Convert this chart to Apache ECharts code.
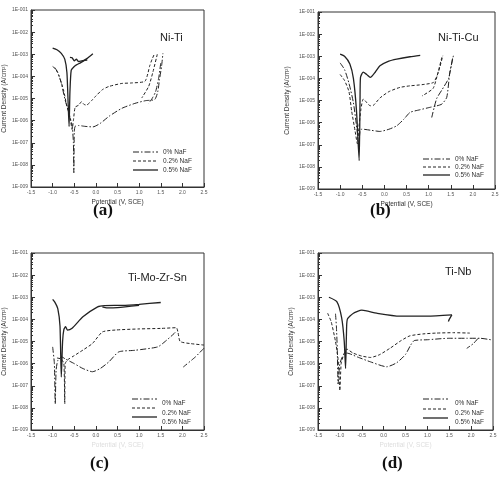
<!DOCTYPE html>
<html>
<head>
<meta charset="utf-8">
<script src="https://cdn.jsdelivr.net/npm/echarts@6/dist/echarts.min.js"></script>
<style>
  html, body { margin: 0; padding: 0; background: #fff; }
  #chart { width: 503px; height: 488px; }
</style>
</head>
<body>
<div id="chart"></div>
<script>
// panel names and labels
const panelNames = ['Ni-Ti', 'Ni-Ti-Cu', 'Ti-Mo-Zr-Sn', 'Ti-Nb'];
const panelLabels = ['(a)', '(b)', '(c)', '(d)'];
const legendNames = ['0% NaF', '0.2% NaF', '0.5% NaF'];

// [potential V, current density A/cm2]
// (a) Ni-Ti
const niTi0 = [[-0.95, 2.5e-4], [-0.88, 1.5e-4], [-0.8, 5e-5], [-0.72, 1e-5], [-0.62, 2e-6], [-0.55, 6e-7], [-0.52, 1e-7], [-0.51, 4.4e-9], [-0.5, 3e-7], [-0.48, 5.5e-7], [-0.4, 6e-7], [-0.25, 5.5e-7], [-0.07, 5.2e-7], [0.1, 7.5e-7], [0.31, 1.6e-6], [0.6, 3.6e-6], [0.9, 6e-6], [1.15, 8e-6], [1.36, 9e-6], [1.43, 2e-5], [1.47, 7e-5], [1.52, 3e-4], [1.55, 1.1e-3]];
const niTi0Rev = [[1.5, 4e-4], [1.45, 8e-5], [1.38, 2e-5], [1.3, 1e-5], [1.22, 6e-6]];
const niTi02 = [[-1.0, 2.8e-4], [-0.92, 2e-4], [-0.85, 1e-4], [-0.75, 2.5e-5], [-0.67, 4.4e-6], [-0.6, 1.5e-6], [-0.55, 4e-7], [-0.52, 1e-6], [-0.48, 4e-6], [-0.4, 5e-6], [-0.33, 7.2e-6], [-0.28, 5.5e-6], [-0.22, 5e-6], [-0.1, 8e-6], [0.0, 1.3e-5], [0.15, 2.5e-5], [0.3, 3.5e-5], [0.6, 4.8e-5], [0.8, 5e-5], [1.13, 5.9e-5], [1.2, 1.3e-4], [1.24, 2.8e-4], [1.3, 6e-4], [1.36, 1.1e-3]];
const niTi02Rev = [[1.42, 1e-3], [1.32, 1.6e-4], [1.22, 3.5e-5], [1.06, 1.05e-5]];
const niTi05 = [[-1.0, 1.9e-3], [-0.9, 1.6e-3], [-0.8, 1.1e-3], [-0.72, 6e-4], [-0.67, 1.5e-4], [-0.64, 5e-6], [-0.62, 5.5e-7], [-0.6, 2e-5], [-0.57, 1.9e-4], [-0.5, 2.8e-4], [-0.45, 3.3e-4], [-0.35, 4.2e-4], [-0.2, 6.5e-4], [-0.07, 1.05e-3]];
const niTi05Rev = [[-0.2, 5.5e-4], [-0.33, 5e-4], [-0.4, 4.7e-4], [-0.45, 6e-4], [-0.5, 5e-4], [-0.55, 7e-4], [-0.6, 7.3e-4]];

// (b) Ni-Ti-Cu
const niTiCu0 = [[-1.0, 5e-4], [-0.9, 2.5e-4], [-0.8, 6e-5], [-0.7, 8e-6], [-0.62, 5e-7], [-0.58, 1e-7], [-0.55, 4e-7], [-0.51, 5.1e-7], [-0.3, 4.5e-7], [-0.1, 4e-7], [0.1, 5e-7], [0.28, 7.2e-7], [0.45, 1.5e-6], [0.58, 2.9e-6], [0.8, 3.8e-6], [1.03, 4.9e-6], [1.18, 5.7e-6], [1.3, 6.9e-6], [1.41, 1.4e-5], [1.48, 1.9e-4], [1.56, 1.05e-3]];
const niTiCu0Rev = [[1.54, 8e-4], [1.45, 1e-4], [1.3, 3e-5], [1.18, 1.2e-5], [1.07, 1.7e-6]];
const niTiCu02 = [[-1.0, 1.5e-4], [-0.9, 8e-5], [-0.8, 2.5e-5], [-0.74, 3.4e-6], [-0.66, 4e-7], [-0.61, 1.1e-7], [-0.58, 5e-7], [-0.53, 4e-6], [-0.48, 1.15e-5], [-0.44, 1e-5], [-0.32, 5.8e-6], [-0.25, 6e-6], [-0.1, 1.3e-5], [0.1, 2.5e-5], [0.35, 3.9e-5], [0.58, 4.6e-5], [0.85, 5.2e-5], [1.11, 6.6e-5], [1.22, 1.9e-4], [1.32, 1.05e-3]];
const niTiCu02Rev = [[1.3, 9e-4], [1.2, 1.5e-4], [1.1, 3.5e-5], [0.85, 1.6e-5]];
const niTiCu05 = [[-1.0, 1.25e-3], [-0.9, 1e-3], [-0.78, 4.5e-4], [-0.7, 1e-4], [-0.63, 3.4e-6], [-0.57, 1.9e-8], [-0.55, 1e-5], [-0.54, 1.1e-4], [-0.48, 1.9e-4], [-0.4, 1.5e-4], [-0.32, 1.1e-4], [-0.2, 2e-4], [-0.1, 3.7e-4], [0.1, 6e-4], [0.28, 7.4e-4], [0.58, 9.5e-4], [0.81, 1.1e-3]];
const niTiCu05Rev = [];

// (c) Ti-Mo-Zr-Sn
const tiMo0 = [[-1.0, 5.7e-6], [-0.96, 1e-6], [-0.94, 1.5e-8], [-0.92, 5e-7], [-0.88, 1.4e-6], [-0.79, 2e-6], [-0.7, 1.6e-6], [-0.5, 1e-6], [-0.3, 6e-7], [-0.08, 4.3e-7], [0.1, 6e-7], [0.3, 1.2e-6], [0.53, 3.4e-6], [0.9, 4e-6], [1.43, 5.7e-6], [1.6, 1e-5], [1.81, 2.3e-5], [1.86, 3e-5]];
const tiMo0Rev = [[2.5, 5e-6], [2.3, 2e-6], [2.02, 7e-7]];
const tiMo02 = [[-0.9, 1.8e-6], [-0.8, 1.6e-6], [-0.74, 1e-6], [-0.72, 1.5e-8], [-0.71, 1e-6], [-0.65, 1.5e-6], [-0.5, 2.3e-6], [-0.3, 4.1e-6], [-0.08, 8.1e-6], [0.15, 2.7e-5], [0.45, 3.3e-5], [1.0, 3.7e-5], [1.5, 3.9e-5], [1.86, 4.2e-5], [1.9, 2.5e-5], [1.95, 1e-5], [2.2, 8e-6], [2.5, 6.9e-6]];
const tiMo02Rev = [];
const tiMo05 = [[-1.0, 8e-4], [-0.95, 6e-4], [-0.88, 3e-4], [-0.83, 5e-5], [-0.8, 2.5e-7], [-0.77, 1e-5], [-0.74, 3.5e-5], [-0.7, 4.7e-5], [-0.66, 3.3e-5], [-0.55, 4e-5], [-0.3, 1.3e-4], [0.04, 3.7e-4], [0.2, 4.2e-4], [0.6, 4.3e-4], [1.0, 4.8e-4], [1.5, 5.8e-4]];
const tiMo05Rev = [[1.0, 4.3e-4], [0.5, 3.4e-4], [0.25, 3.3e-4], [0.15, 3.7e-4]];

// (d) Ti-Nb
const tiNb0 = [[-1.1, 1.8e-4], [-1.08, 5e-5], [-1.06, 5e-6], [-1.04, 1.2e-7], [-1.0, 1e-6], [-0.92, 2.5e-6], [-0.84, 3e-6], [-0.6, 2e-6], [-0.3, 1.2e-6], [0.07, 7.2e-7], [0.3, 1.1e-6], [0.5, 2.6e-6], [0.62, 7e-6], [0.7, 1.1e-5], [1.0, 1.2e-5], [1.5, 1.4e-5], [1.9, 1.4e-5], [2.2, 1.4e-5], [2.45, 1.2e-5]];
const tiNb0Rev = [[2.16, 1.4e-5], [2.05, 8e-6], [1.9, 4.9e-6]];
const tiNb02 = [[-1.28, 1.9e-4], [-1.2, 8e-5], [-1.1, 1e-5], [-1.04, 1.5e-6], [-1.0, 6e-8], [-0.97, 1e-6], [-0.9, 3e-6], [-0.84, 4.5e-6], [-0.7, 3e-6], [-0.5, 2.2e-6], [-0.3, 1.9e-6], [-0.1, 2.5e-6], [0.15, 5e-6], [0.4, 1.1e-5], [0.6, 1.8e-5], [0.9, 2.2e-5], [1.2, 2.4e-5], [1.6, 2.5e-5], [1.97, 2.4e-5]];
const tiNb02Rev = [];
const tiNb05 = [[-1.25, 1e-3], [-1.07, 6.3e-4], [-0.96, 1.2e-4], [-0.9, 1e-5], [-0.87, 6e-7], [-0.85, 2e-5], [-0.83, 1e-4], [-0.69, 1.9e-4], [-0.5, 2.6e-4], [-0.16, 1.9e-4], [0.37, 1.4e-4], [1.0, 1.4e-4], [1.56, 1.6e-4]];
const tiNb05Rev = [[1.56, 1.6e-4], [1.5, 1e-4], [1.48, 8e-5]];

const panelData = [
  [[niTi0, niTi0Rev], [niTi02, niTi02Rev], [niTi05, niTi05Rev]],
  [[niTiCu0, niTiCu0Rev], [niTiCu02, niTiCu02Rev], [niTiCu05, niTiCu05Rev]],
  [[tiMo0, tiMo0Rev], [tiMo02, tiMo02Rev], [tiMo05, tiMo05Rev]],
  [[tiNb0, tiNb0Rev], [tiNb02, tiNb02Rev], [tiNb05, tiNb05Rev]]
];

const grids = [
  { left: 27, top: 10, width: 177, height: 177 },
  { left: 318, top: 12, width: 177, height: 177 },
  { left: 27, top: 253, width: 177, height: 177 },
  { left: 318, top: 253, width: 175, height: 177 }
];

const dashTypes = [[6, 2, 1.5, 2], [3, 2], 'solid'];
const lineWidths = [1, 1, 1.3];
const font = 'Liberation Sans, Arial, sans-serif';

const chart = echarts.init(document.getElementById('chart'), null, { renderer: 'canvas' });

const xAxes = grids.map((g, i) => ({
  type: 'value', gridIndex: i, min: -1.5, max: 2.5, interval: 0.5,
  name: 'Potential (V, SCE)', nameLocation: 'middle', nameGap: 12,
  nameTextStyle: { fontSize: 6.5, fontFamily: font, color: i < 2 ? '#333' : '#ddd' },
  axisLine: { onZero: false, lineStyle: { color: '#333', width: 1 } },
  axisTick: { inside: true, length: 4, lineStyle: { color: '#333' } },
  axisLabel: { fontSize: 5, color: '#555', fontFamily: font, margin: 3,
    formatter: v => v.toFixed(1) },
  splitLine: { show: false }
}));

const yAxes = grids.map((g, i) => ({
  type: 'log', gridIndex: i, logBase: 10, min: 1e-9, max: 1e-1, interval: 1,
  name: 'Current Density (A/cm²)', nameLocation: 'middle', nameGap: [20, 27, 22, 21][i],
  nameTextStyle: { fontSize: 6.5, fontFamily: font, color: '#333' },
  axisLine: { show: true, onZero: false, lineStyle: { color: '#333', width: 1 } },
  axisTick: { inside: true, length: 4, lineStyle: { color: '#333' } },
  minorTick: { show: true, splitNumber: 9, length: 2, lineStyle: { color: '#333' } },
  axisLabel: { fontSize: 5, color: '#555', fontFamily: font, margin: 3,
    formatter: v => '1E-' + String(Math.round(-Math.log10(v))).padStart(3, '0') },
  splitLine: { show: false }
}));

const series = [];
panelData.forEach((curves, p) => {
  curves.forEach((parts, k) => {
    parts.forEach(d => {
      if (!d.length) return;
      series.push({
        name: legendNames[k], type: 'line', xAxisIndex: p, yAxisIndex: p,
        data: d, showSymbol: false, symbol: 'none', smooth: 0.2,
        lineStyle: { color: '#222', width: lineWidths[k], type: dashTypes[k] },
        silent: true
      });
    });
  });
});

// legend samples: [x0, x1, text x, line ys, text ys]
const legends = [
  { x0: 133, x1: 158, tx: 163, ly: [152, 161, 170], ty: [152, 161, 170] },
  { x0: 423, x1: 450, tx: 455, ly: [159, 167, 175], ty: [159, 167, 175] },
  { x0: 132, x1: 157, tx: 162, ly: [399, 408, 417], ty: [403, 413, 422] },
  { x0: 423, x1: 448, tx: 455, ly: [399, 409, 418], ty: [403, 413, 422] }
];
const graphics = [];
legends.forEach(lg => {
  for (let k = 0; k < 3; k++) {
    graphics.push({
      type: 'line', silent: true,
      shape: { x1: lg.x0, y1: lg.ly[k], x2: lg.x1, y2: lg.ly[k] },
      style: { stroke: '#222', lineWidth: lineWidths[k],
        lineDash: Array.isArray(dashTypes[k]) ? dashTypes[k] : null }
    });
    graphics.push({
      type: 'text', silent: true, x: lg.tx, y: lg.ty[k],
      style: { text: legendNames[k], fontSize: 6.5, fontFamily: font, fill: '#333', verticalAlign: 'middle' }
    });
  }
});

const titlePos = [[160, 32], [438, 32], [128, 272], [445, 266]];
const labelPos = [[93, 202], [370, 202], [90, 455], [382, 455]];
const titles = [];
panelNames.forEach((t, i) => titles.push({
  text: t, left: titlePos[i][0], top: titlePos[i][1], padding: 0,
  textStyle: { fontSize: 11, fontWeight: 'normal', color: '#222', fontFamily: font }
}));
panelLabels.forEach((t, i) => titles.push({
  text: t, left: labelPos[i][0], top: labelPos[i][1], padding: 0,
  textStyle: { fontSize: 17, fontWeight: 'bold', color: '#111', fontFamily: 'Liberation Serif, DejaVu Serif, serif' }
}));

chart.setOption({
  animation: false,
  backgroundColor: '#fff',
  title: titles,
  grid: grids.map(g => Object.assign({ show: true, borderColor: '#333', borderWidth: 1, containLabel: false }, g)),
  xAxis: xAxes,
  yAxis: yAxes,
  series: series,
  graphic: graphics
});
</script>
</body>
</html>
